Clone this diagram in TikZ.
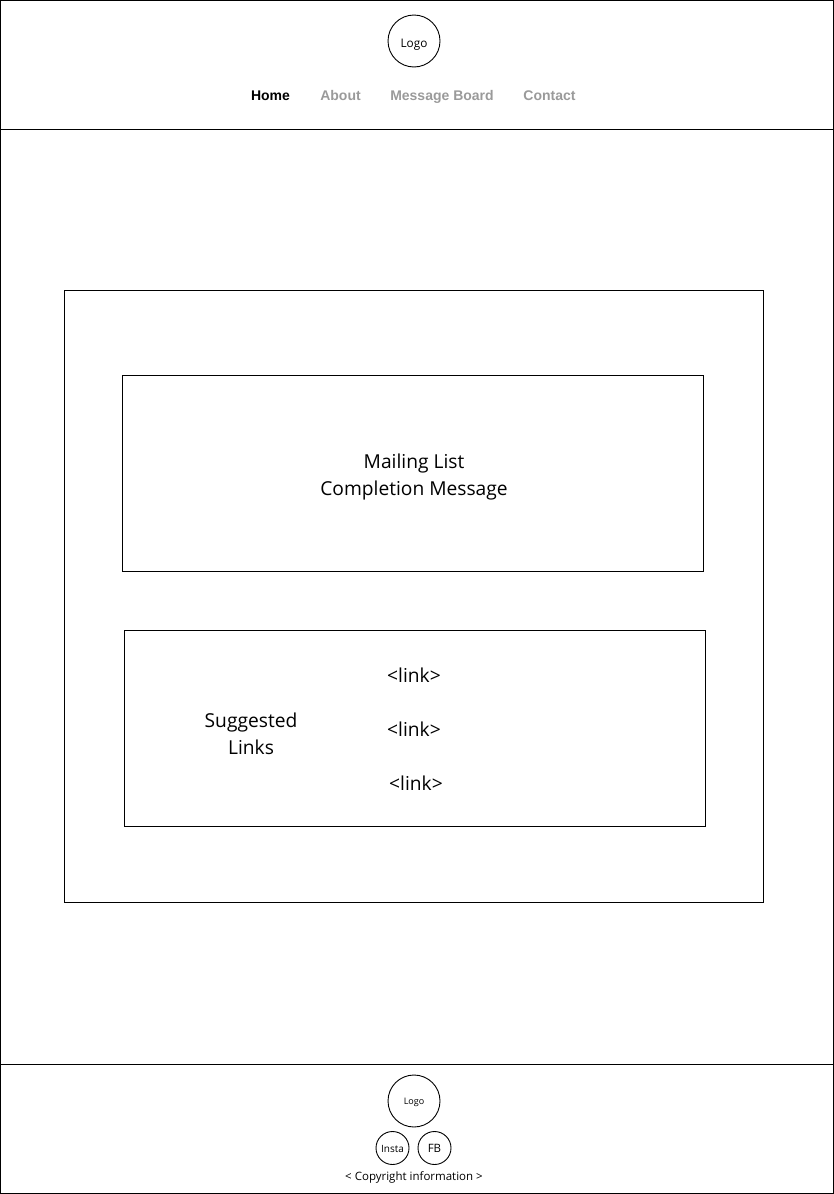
\documentclass[tikz,border=0pt]{standalone}
\usepackage{xcolor}
\usepackage{fontspec}
\setmainfont{Open Sans}
\newfontfamily\navfont{Liberation Sans}
\usetikzlibrary{positioning}
\definecolor{NavMuted}{HTML}{9A9A9A}
\begin{document}
\begin{tikzpicture}[
		x=1pt,y=-1pt,
		line width=0.9pt,
		frame/.style={draw,minimum width=#1,inner sep=0pt,outer sep=0pt},
		circ/.style={draw,circle,minimum size=#1,inner sep=0pt,outer sep=0pt,text height=12pt,text depth=0pt},
		smallcirc/.style={circ=#1,text height=8pt},
		nav/.style={font=\navfont\bfseries\fontsize{14}{17}\selectfont,inner sep=0pt,anchor=base},
		big/.style={font=\fontsize{19.2}{27}\selectfont,align=center,inner sep=0pt}
	]
	\useasboundingbox (0,0) rectangle (834,1194);
	% page bands
	\node[frame=833,minimum height=129] (header) at (417,65) {};
	\node[frame=833,minimum height=935] (body) at (417,597) {};
	\node[frame=833,minimum height=129] (footer) at (417,1129) {};
	% header
	\node[circ=52,font=\fontsize{11.8}{14}\selectfont] (logo) at (414,41) {Logo};
	\node[nav] (home) at (270.5,100) {Home};
	\node[nav,NavMuted] (about) at (340.5,100) {About};
	\node[nav,NavMuted] (board) at (442,100) {Message Board};
	\node[nav,NavMuted] (contact) at (549.5,100) {Contact};
	% main content
	\node[frame=699,minimum height=612] (panel) at (414,596.5) {};
	\node[frame=581,minimum height=196] (message) at (413,473) {};
	\node[big] (messagetext) at (414,477) {Mailing List\\Completion Message};
	\node[frame=581,minimum height=196] (links) at (415,728) {};
	\node[big] (suggested) at (251,734) {Suggested\\Links};
	\node[big] (linka) at (414,675) {<link>};
	\node[big] (linkb) at (414,729) {<link>};
	\node[big] (linkc) at (416,783) {<link>};
	% footer
	\node[smallcirc=52,text height=6pt,font=\fontsize{9}{11}\selectfont] (flogo) at (414,1101) {Logo};
	\node[smallcirc=33,font=\fontsize{10}{12}\selectfont] (insta) at (392.5,1148) {Insta};
	\node[smallcirc=33,font=\fontsize{11.5}{14}\selectfont] (fb) at (434.5,1148) {FB};
	\node[font=\fontsize{11.5}{14}\selectfont,inner sep=0pt] (copy) at (414,1177) {< Copyright information >};
\end{tikzpicture}
\end{document}
